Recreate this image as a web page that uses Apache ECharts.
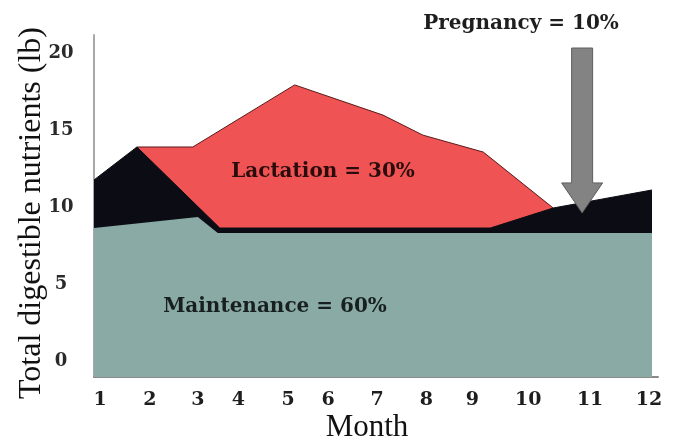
<!DOCTYPE html>
<html><head><meta charset="utf-8">
<script src="https://cdn.jsdelivr.net/npm/echarts@6/dist/echarts.min.js"></script>
<style>html,body{margin:0;padding:0;background:#fff}#c{width:678px;height:441px}</style>
</head><body><div id="c"></div>
<script>
// Month axis: positions of the printed month labels (in month units)
const monthTickPos = [1, 2.0, 2.96, 3.77, 4.77, 5.57, 6.55, 7.54, 8.46, 9.58, 10.82, 12.0];
const monthLabels = ['1','2','3','4','5','6','7','8','9','10','11','12'];
const yTicks = [0, 5, 10, 15, 20];

// Maintenance (bottom layer) upper boundary
const maintenanceX = [0.88, 2.96, 3.36, 12.06];
const maintenanceY = [8.67, 9.38, 8.35, 8.35];
// Maintenance + pregnancy upper boundary
const pregnancyTopX = [0.88, 1.74, 3.40, 8.82, 10.08, 12.06];
const pregnancyTopY = [11.79, 13.93, 8.67, 8.67, 9.97, 11.14];
// Lactation upper boundary
const lactationTopX = [1.74, 2.86, 4.90, 6.67, 7.47, 8.68, 10.08];
const lactationTopY = [13.93, 13.93, 17.96, 16.0, 14.7, 13.6, 9.97];
// Pregnancy arrow tip (month, lb)
const arrowTip = [10.66, 9.65];

const pair = (xs, ys) => xs.map((x, i) => [x, ys[i]]);
const chart = echarts.init(document.getElementById('c'), null, {renderer: 'canvas'});
const boldFont = {fontFamily: 'DejaVu Serif', fontWeight: 'bold'};

chart.setOption({
  animation: false,
  backgroundColor: '#fff',
  grid: {left: 94, right: 20, top: 35, bottom: 64, containLabel: false, outerBoundsMode: 'none'},
  xAxis: {
    type: 'value', min: 0.88, max: 12.18,
    axisLine: {onZero: false, lineStyle: {color: '#8a8a8a', width: 2}},
    axisTick: {show: false}, splitLine: {show: false},
    axisLabel: {
      customValues: monthTickPos,
      formatter: v => { const i = monthTickPos.findIndex(p => Math.abs(p - v) < 1e-6); return i >= 0 ? monthLabels[i] : ''; },
      margin: 14, fontSize: 19, color: '#1e1e1e', ...boldFont
    },
    name: 'Month', nameLocation: 'middle', nameGap: 35, nameMoveOverlap: false,
    nameTextStyle: {fontFamily: 'Liberation Serif', fontSize: 31, color: '#111', padding: [0, 18, 0, 0]}
  },
  yAxis: {
    type: 'value', min: -1, max: 21.2,
    axisLine: {show: true, onZero: false, lineStyle: {color: '#a8a8a8', width: 2}},
    axisTick: {show: false}, splitLine: {show: false},
    axisLabel: {customValues: yTicks, margin: 33, align: 'center', fontSize: 18, color: '#2a2a2a', ...boldFont},
    name: 'Total digestible nutrients (lb)', nameLocation: 'middle', nameGap: 46, nameMoveOverlap: false,
    nameTextStyle: {fontFamily: 'Liberation Serif', fontSize: 32, color: '#111', padding: [0, 14, 0, 0]}
  },
  series: [
    {name: 'Lactation', type: 'line', data: pair(lactationTopX, lactationTopY), symbol: 'none', z: 2,
     lineStyle: {color: '#5a1a1a', width: 1}, areaStyle: {color: '#EF5354', origin: 'start', opacity: 1}},
    {name: 'Pregnancy', type: 'line', data: pair(pregnancyTopX, pregnancyTopY), symbol: 'none', z: 3,
     lineStyle: {color: '#0c0c14', width: 1}, areaStyle: {color: '#0c0c14', origin: 'start', opacity: 1}},
    {name: 'Maintenance', type: 'line', data: pair(maintenanceX, maintenanceY), symbol: 'none', z: 4,
     lineStyle: {width: 0}, areaStyle: {color: '#8AAAA6', origin: 'start', opacity: 1}}
  ]
});

const tip = chart.convertToPixel({gridIndex: 0}, arrowTip);
const tx = tip[0], ty = tip[1];
chart.setOption({
  graphic: [
    {type: 'polygon', z: 100, shape: {points: [[tx - 10.5, 48], [tx + 10.5, 48], [tx + 10.5, ty - 30], [tx + 20.5, ty - 30], [tx, ty], [tx - 20.5, ty - 30], [tx - 10.5, ty - 30]]},
     style: {fill: '#838383', stroke: '#5e5e5e', lineWidth: 1}},
    {type: 'text', z: 100, style: {x: 323, y: 172, text: 'Lactation = 30%', align: 'center', verticalAlign: 'middle', fill: '#2b0c0c', fontSize: 20, ...boldFont}},
    {type: 'text', z: 100, style: {x: 275, y: 307, text: 'Maintenance = 60%', align: 'center', verticalAlign: 'middle', fill: '#17201f', fontSize: 20, ...boldFont}},
    {type: 'text', z: 100, style: {x: 521, y: 24, text: 'Pregnancy = 10%', align: 'center', verticalAlign: 'middle', fill: '#1e1e1e', fontSize: 20, ...boldFont}}
  ]
});
</script>
</body></html>
